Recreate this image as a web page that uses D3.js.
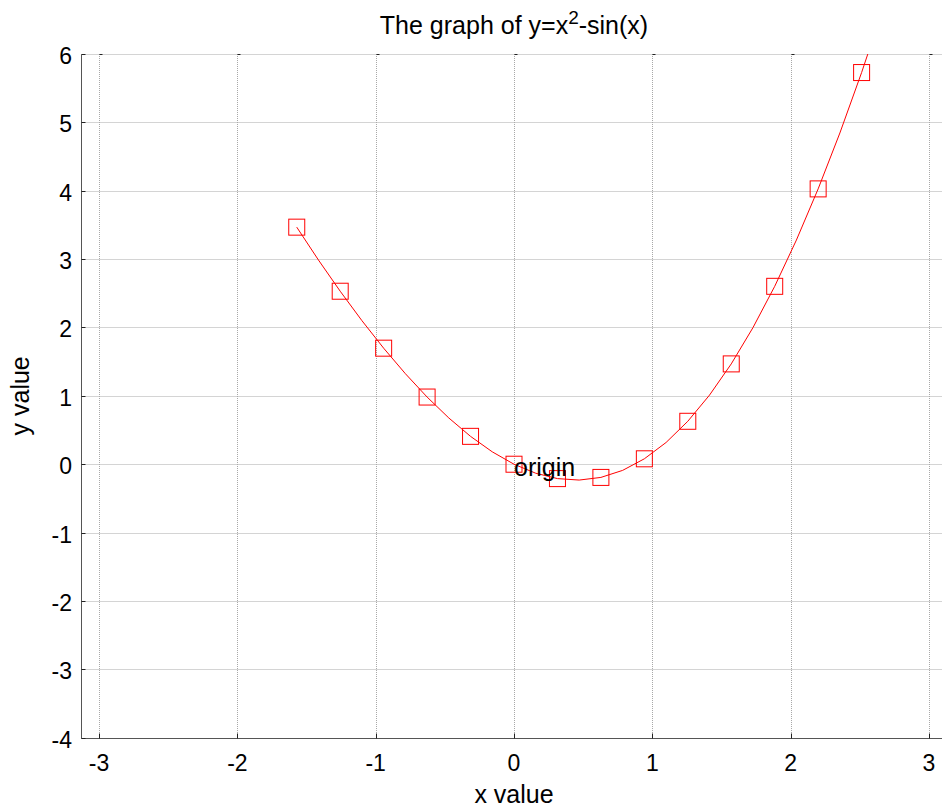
<!DOCTYPE html>
<html>
<head>
<meta charset="utf-8">
<script src="https://cdn.jsdelivr.net/npm/d3@7"></script>
<style>
  body { margin: 0; background: #fff; }
  text { font-family: "Liberation Sans", Arial, sans-serif; }
</style>
</head>
<body>
<div id="chart"></div>
<script>
// curve samples, step pi/20 from -pi/2
var lineX = [-1.5708, -1.4137, -1.2566, -1.0996, -0.9425, -0.7854, -0.6283, -0.4712, -0.3142, -0.1571,
  0, 0.1571, 0.3142, 0.4712, 0.6283, 0.7854, 0.9425, 1.0996, 1.2566, 1.4137,
  1.5708, 1.7279, 1.8850, 2.0420, 2.1991, 2.3562, 2.5133, 2.6704];
var lineY = [3.4674, 2.9863, 2.5302, 2.1000, 1.6973, 1.3240, 0.9826, 0.6761, 0.4077, 0.1811,
  0, -0.1317, -0.2103, -0.2319, -0.1930, -0.0902, 0.0793, 0.3180, 0.6280, 1.0109,
  1.4674, 1.9979, 2.6020, 3.2789, 4.0271, 4.8446, 5.7287, 6.6770];

// square markers, step pi/10
var markX = [-1.5708, -1.2566, -0.9425, -0.6283, -0.3142, 0, 0.3142, 0.6283, 0.9425, 1.2566, 1.5708, 1.8850, 2.1991, 2.5133];
var markY = [3.4674, 2.5302, 1.6973, 0.9826, 0.4077, 0, -0.2103, -0.1930, 0.0793, 0.6280, 1.4674, 2.6020, 4.0271, 5.7287];

var xTicks = [-3, -2, -1, 0, 1, 2, 3];
var yTicks = [-4, -3, -2, -1, 0, 1, 2, 3, 4, 5, 6];

var width = 942, height = 807;
var plotL = 79.5, plotR = 948.5, plotT = 54, plotB = 737.7;

var x = d3.scaleLinear().domain([-Math.PI, Math.PI]).range([plotL, plotR]);
var y = d3.scaleLinear().domain([-4, 6]).range([plotB, plotT]);

var svg = d3.select("#chart").append("svg")
  .attr("width", width)
  .attr("height", height);

svg.append("defs").append("clipPath").attr("id", "clip")
  .append("rect")
  .attr("x", plotL).attr("y", plotT)
  .attr("width", plotR - plotL).attr("height", plotB - plotT);

function px(v) { return Math.round(x(v)) + 0.5; }
function py(v) { return Math.round(y(v)) + 0.5; }
var axX = 81.5, axY = Math.round(plotB) + 0.5;

// grid
var grid = svg.append("g")
  .attr("stroke", "#a8a8a8")
  .attr("stroke-width", 1)
  .attr("stroke-dasharray", "1,1");
grid.selectAll(".vg").data(xTicks).enter().append("line")
  .attr("x1", px).attr("x2", px)
  .attr("y1", plotT).attr("y2", axY);
grid.selectAll(".hg").data(yTicks).enter().append("line")
  .attr("y1", py).attr("y2", py)
  .attr("x1", axX).attr("x2", width);

// axes lines
var axisColor = "#555";
svg.append("line")
  .attr("x1", axX).attr("x2", axX)
  .attr("y1", py(6)).attr("y2", axY)
  .attr("stroke", axisColor);
svg.append("line")
  .attr("x1", axX).attr("x2", width)
  .attr("y1", axY).attr("y2", axY)
  .attr("stroke", axisColor);

// tick marks
var ticks = svg.append("g").attr("stroke", "#222").attr("stroke-width", 1);
ticks.selectAll(".yt").data(yTicks).enter().append("line")
  .attr("x1", axX).attr("x2", axX + 4)
  .attr("y1", py).attr("y2", py);
ticks.selectAll(".xt").data(xTicks).enter().append("line")
  .attr("x1", px).attr("x2", px)
  .attr("y1", axY).attr("y2", axY - 5);
ticks.selectAll(".xtt").data(xTicks).enter().append("line")
  .attr("x1", px)
  .attr("x2", function(d) { return px(d) + 3; })
  .attr("y1", py(6)).attr("y2", py(6));

// tick labels
svg.selectAll(".xl").data(xTicks).enter().append("text")
  .attr("x", function(d) { return x(d); })
  .attr("y", 770.5)
  .attr("text-anchor", "middle")
  .attr("font-size", 23)
  .text(function(d) { return d; });
svg.selectAll(".yl").data(yTicks).enter().append("text")
  .attr("x", 72)
  .attr("y", function(d) { return y(d) + 10; })
  .attr("text-anchor", "end")
  .attr("font-size", 23)
  .text(function(d) { return d; });

// curve
var plot = svg.append("g").attr("clip-path", "url(#clip)");
var pts = lineX.map(function(v, i) { return [v, lineY[i]]; });
plot.append("path")
  .datum(pts)
  .attr("fill", "none")
  .attr("stroke", "#ff0000")
  .attr("stroke-width", 1)
  .attr("d", d3.line().x(function(d) { return x(d[0]); }).y(function(d) { return y(d[1]); }));

var mk = markX.map(function(v, i) { return [v, markY[i]]; });
plot.selectAll(".mk").data(mk).enter().append("rect")
  .attr("x", function(d) { return x(d[0]) - 8; })
  .attr("y", function(d) { return y(d[1]) - 8; })
  .attr("width", 16).attr("height", 16)
  .attr("fill", "none")
  .attr("stroke", "#ff0000")
  .attr("stroke-width", 1);

// annotation
svg.append("text")
  .attr("x", x(0))
  .attr("y", y(0) + 12)
  .attr("font-size", 25)
  .text("origin");

// title
var title = svg.append("text")
  .attr("x", x(0))
  .attr("y", 34)
  .attr("text-anchor", "middle")
  .attr("font-size", 25);
title.append("tspan").text("The graph of y=x");
title.append("tspan").attr("dy", -10).attr("font-size", 19).text("2");
title.append("tspan").attr("dy", 10).text("-sin(x)");

// axis labels
svg.append("text")
  .attr("x", x(0))
  .attr("y", 803)
  .attr("text-anchor", "middle")
  .attr("font-size", 25)
  .text("x value");
svg.append("text")
  .attr("transform", "translate(29," + y(1) + ") rotate(-90)")
  .attr("text-anchor", "middle")
  .attr("font-size", 25)
  .text("y value");
</script>
</body>
</html>
